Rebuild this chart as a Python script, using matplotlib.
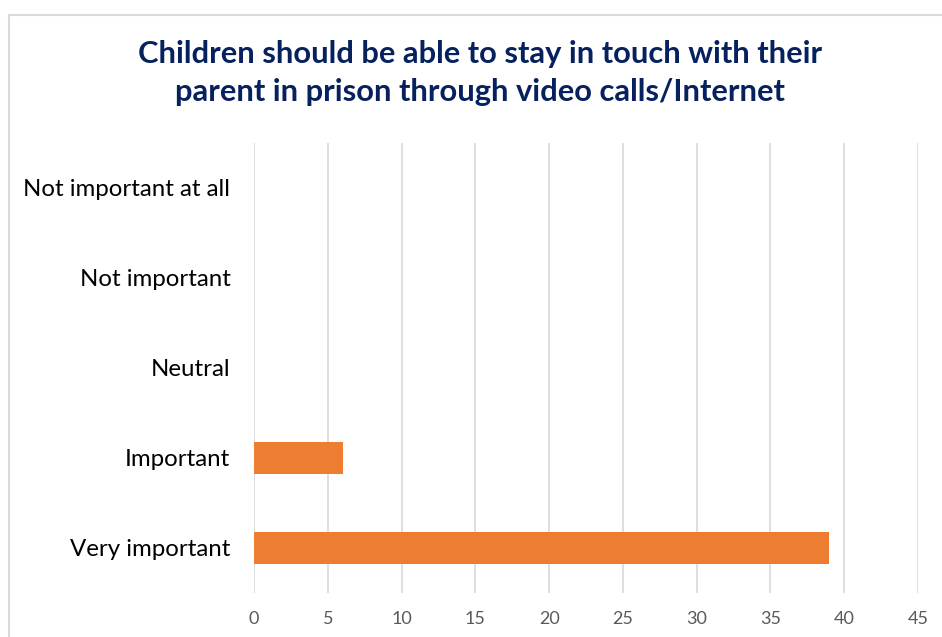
import matplotlib.pyplot as plt
from matplotlib.patches import Rectangle

# risposte e numero di persone
categorie = ["Not important at all", "Not important", "Neutral", "Important", "Very important"]
valori = [0, 0, 0, 6, 39]
tick_x = [0, 5, 10, 15, 20, 25, 30, 35, 40, 45]

titolo = "Children should be able to stay in touch with their\nparent in prison through video calls/Internet"

plt.rcParams['font.family'] = ['Lato', 'DejaVu Sans']

fig = plt.figure(figsize=(9.42, 6.37), dpi=100)

# cornice grigia del grafico
fig.patches.append(Rectangle((9/942, -0.1), 1.2, 1 - 15/637 + 0.1,
                             transform=fig.transFigure, fill=False,
                             edgecolor='#D9D9D9', linewidth=1.5))

ax = fig.add_axes([254/942, 44/637, 664/942, 450/637])

pos = list(range(len(categorie)))
ax.barh(pos, valori, height=0.345, color='#ED7D31', zorder=3)
ax.set_ylim(len(categorie) - 0.5, -0.5)
ax.set_xlim(0, 45)

ax.set_yticks(pos)
ax.set_yticklabels(categorie, fontsize=17.3, color='#000000')
ax.set_xticks(tick_x)
ax.set_xticklabels([str(t) for t in tick_x], fontsize=13, color='#595959')
ax.tick_params(axis='both', length=0)
ax.tick_params(axis='y', pad=17)
ax.tick_params(axis='x', pad=13)

ax.grid(axis='x', color='#D9D9D9', linewidth=1.2, zorder=0)
for s in ax.spines.values():
    s.set_visible(False)

fig.text(480/942, 1 - 40/637, titolo, ha='center', va='top',
         fontsize=22.2, fontweight='bold', color='#06215E', linespacing=1.42)

fig.savefig("out.png", dpi=100)
